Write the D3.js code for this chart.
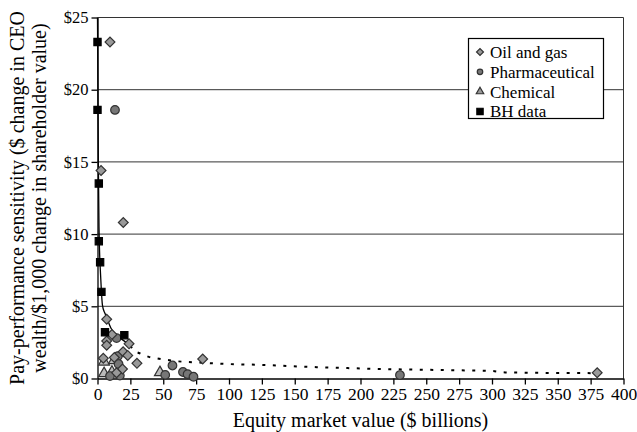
<!DOCTYPE html>
<html>
<head>
<meta charset="utf-8">
<script src="https://cdn.jsdelivr.net/npm/d3@7"></script>
<style>
  body { margin: 0; background: #fff; }
</style>
</head>
<body>
<div class="chart"></div>
<script>
var svgWidth = 637;
var svgHeight = 432;
var serif = "'Liberation Serif', 'DejaVu Serif', serif";

// data: [equity value ($bn), sensitivity ($)]
var oilGas = [[9.5, 23.3], [2.7, 14.4], [19.6, 10.8], [7, 4.1], [11, 3.05], [7, 2.6], [7, 2.3],
    [24, 2.4], [19.5, 1.85], [23, 1.6], [12.8, 1.45], [4.4, 1.4], [30, 1.05], [19, 0.65],
    [14.5, 0.4], [80, 1.35], [380, 0.4]];
var pharma = [[13.3, 18.6], [14.5, 2.8], [15.5, 1.55], [16, 1.0], [9.5, 0.17], [17, 0.2],
    [57, 0.9], [51.5, 0.25], [65, 0.45], [68.5, 0.3], [73, 0.12], [230, 0.24]];
var chemical = [[5, 1.15], [12.5, 1.25], [5, 0.35], [11, 0.45], [47.5, 0.42]];
var bhData = [[0, 23.3], [0, 18.6], [1, 13.5], [1, 9.5], [2, 8.05], [3, 6.0], [5.7, 3.2], [20.4, 3.0]];

// fitted curves
var bhFit = [[0, 25], [0.3, 20], [0.6, 15], [1.1, 10], [1.8, 8], [3, 6], [3.6, 5], [5, 4.6],
    [7, 4.3], [9, 3.7], [11, 3.3], [16, 2.85], [22, 2.5], [25, 2.3]];
var firmFit = [[25, 2.3], [27, 2.0], [32, 1.75], [39, 1.5], [45, 1.4], [60, 1.2], [78, 1.1],
    [100, 1.0], [123, 0.95], [154, 0.83], [190, 0.72], [225, 0.64], [265, 0.58], [300, 0.52],
    [310, 0.42], [380, 0.37]];

var xTicks = d3.range(0, 401, 25);
var yTicks = [0, 5, 10, 15, 20, 25];

var legendItems = [
    { name: "Oil and gas", shape: "diamond" },
    { name: "Pharmaceutical", shape: "circle" },
    { name: "Chemical", shape: "triangle" },
    { name: "BH data", shape: "square" }
];

var svg = d3.select(".chart").append("svg")
    .attr("width", svgWidth)
    .attr("height", svgHeight)
    .style("font-family", serif);

var x = d3.scaleLinear().domain([0, 400]).range([97.5, 623.5]);
var y = d3.scaleLinear().domain([0, 25]).range([378.5, 17.5]);

// gridlines
svg.append("g").selectAll("line")
    .data(yTicks.filter(d => d > 0))
    .enter().append("line")
    .attr("x1", x(0)).attr("x2", x(400))
    .attr("y1", d => y(d)).attr("y2", d => y(d))
    .attr("stroke", "#333").attr("stroke-width", 1);

// right border
svg.append("line")
    .attr("x1", x(400)).attr("x2", x(400))
    .attr("y1", y(25)).attr("y2", y(0))
    .attr("stroke", "#333");

// axes
var xAxis = svg.append("g")
    .attr("transform", `translate(0, ${y(0)})`)
    .call(d3.axisBottom(x).tickValues(xTicks).tickSize(6).tickSizeOuter(0));
var yAxis = svg.append("g")
    .attr("transform", `translate(${x(0)}, 0)`)
    .call(d3.axisLeft(y).tickValues(yTicks).tickSize(6).tickSizeOuter(0).tickFormat(d => "$" + d));

[xAxis, yAxis].forEach(function (g) {
    g.attr("font-family", null);
    g.selectAll("path, line").attr("stroke", "#000").attr("stroke-width", 1.3);
    g.selectAll("text").attr("fill", "#000").style("font-family", serif);
});
xAxis.selectAll("text").attr("font-size", "17.5px").attr("dy", "0.8em").attr("y", 7);
yAxis.selectAll("text").attr("font-size", "16.5px").attr("x", -9);

// fitted lines
svg.append("path")
    .datum(firmFit)
    .attr("d", d3.line().x(d => x(d[0])).y(d => y(d[1])).curve(d3.curveMonotoneX))
    .attr("fill", "none")
    .attr("stroke", "#000")
    .attr("stroke-width", 2)
    .attr("stroke-dasharray", "3,7.5");

svg.append("path")
    .datum(bhFit)
    .attr("d", d3.line().x(d => x(d[0])).y(d => y(d[1])).curve(d3.curveBasis))
    .attr("fill", "none")
    .attr("stroke", "#000")
    .attr("stroke-width", 1.3);

// markers
var symbols = {
    diamond: { type: d3.symbolSquare, size: 48, rotate: 45, fill: "#999", stroke: "#333" },
    circle: { type: d3.symbolCircle, size: 58, rotate: 0, fill: "#777", stroke: "#333" },
    triangle: { type: d3.symbolTriangle, size: 52, rotate: 0, fill: "#bbb", stroke: "#333" },
    square: { type: d3.symbolSquare, size: 52, rotate: 0, fill: "#000", stroke: "#000" }
};

function drawSeries(data, shape) {
    var s = symbols[shape];
    svg.append("g").selectAll("path")
        .data(data)
        .enter().append("path")
        .attr("transform", d => `translate(${x(d[0])}, ${y(d[1])}) rotate(${s.rotate})`)
        .attr("d", d3.symbol().type(s.type).size(s.size))
        .attr("fill", s.fill)
        .attr("stroke", s.stroke)
        .attr("stroke-width", 1.2);
}

drawSeries(chemical, "triangle");
drawSeries(pharma, "circle");
drawSeries(oilGas, "diamond");
drawSeries(bhData, "square");

// legend
var legend = svg.append("g").attr("transform", "translate(468, 38)");
legend.append("rect")
    .attr("x", 0.5).attr("y", 0.5)
    .attr("width", 135).attr("height", 80)
    .attr("fill", "#fff").attr("stroke", "#000").attr("stroke-width", 1.2);

var items = legend.selectAll("g.item")
    .data(legendItems)
    .enter().append("g")
    .attr("transform", (d, i) => `translate(12, ${14 + i * 19.8})`);
items.append("path")
    .attr("transform", d => `rotate(${symbols[d.shape].rotate})`)
    .attr("d", d => d3.symbol().type(symbols[d.shape].type).size(d.shape === "square" ? 40 : 24)())
    .attr("fill", d => d.shape === "triangle" ? "#999" : symbols[d.shape].fill)
    .attr("stroke", d => symbols[d.shape].stroke)
    .attr("stroke-width", 1.2);
items.append("text")
    .attr("x", 10)
    .attr("dy", "0.35em")
    .attr("font-size", "17px")
    .style("font-family", serif)
    .text(d => d.name);

// axis titles
svg.append("text")
    .attr("x", x(200))
    .attr("y", 427)
    .attr("text-anchor", "middle")
    .attr("font-size", "20px")
    .style("font-family", serif)
    .text("Equity market value ($ billions)");

var yTitle = svg.append("g")
    .attr("transform", "translate(0, 198) rotate(-90)");
yTitle.append("text")
    .attr("x", 0).attr("y", 24)
    .attr("text-anchor", "middle")
    .attr("font-size", "20px")
    .style("font-family", serif)
    .text("Pay-performance sensitivity ($ change in CEO");
yTitle.append("text")
    .attr("x", 0).attr("y", 46)
    .attr("text-anchor", "middle")
    .attr("font-size", "20px")
    .style("font-family", serif)
    .text("wealth/$1,000 change in shareholder value)");
</script>
</body>
</html>
